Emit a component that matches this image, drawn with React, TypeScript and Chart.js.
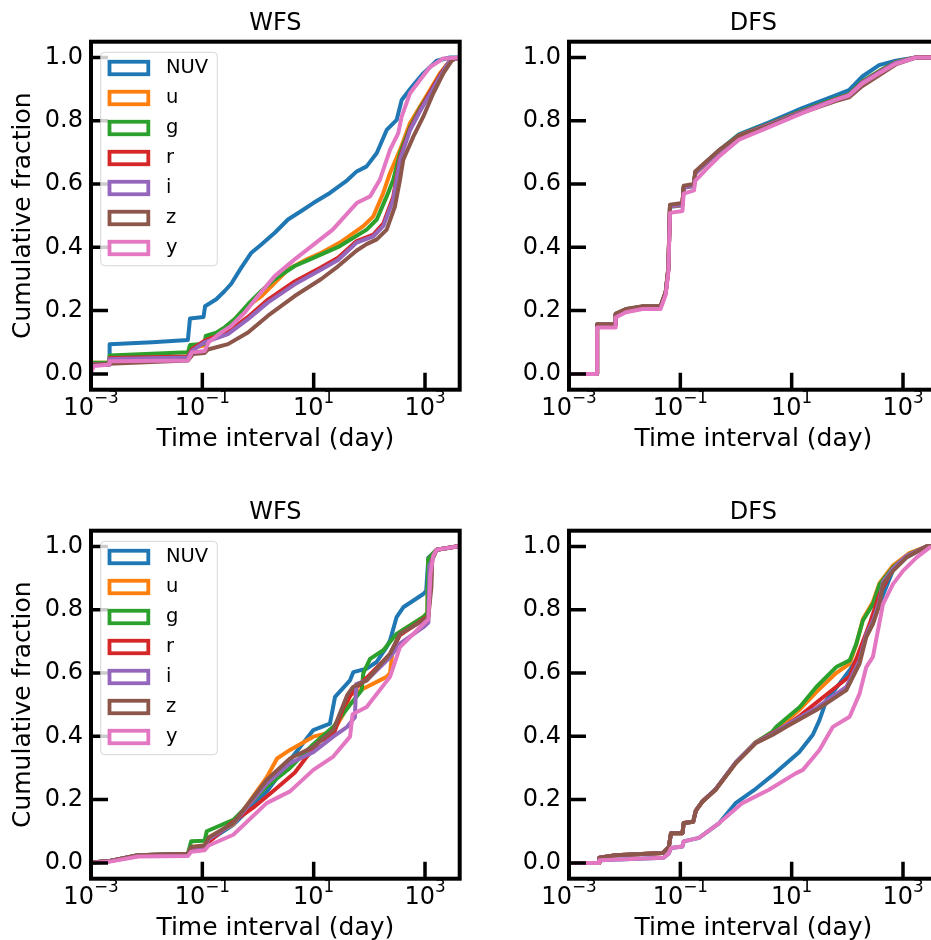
import React, { useEffect, useRef } from 'react';
import { Chart, registerables } from 'chart.js';

Chart.register(...registerables);

const FONT = "'DejaVu Sans', sans-serif";

// ---- labels / categories ----
const bandNames = ['NUV', 'u', 'g', 'r', 'i', 'z', 'y'];
const bandColors = ['#1f77b4', '#ff7f0e', '#2ca02c', '#d62728', '#9467bd', '#8c564b', '#e377c2'];
const panelTitles = ['WFS', 'DFS', 'WFS', 'DFS'];
const yTickValues = [0, 0.2, 0.4, 0.6, 0.8, 1.0];
const xTickValues = [1e-3, 1e-1, 1e1, 1e3];
const xTickBase = '10';
const xTickExponents = ['\u22123', '\u22121', '1', '3'];
const xAxisLabel = 'Time interval (day)';
const yAxisLabel = 'Cumulative fraction';
const xLimits = [1e-3, 4200];
const yLimits = [-0.05, 1.05];

// ---- top-left: WFS (upper row) ----
const tlNUVx = [0.001, 0.00216, 0.00216, 0.0126, 0.055, 0.06, 0.105, 0.112, 0.178, 0.252, 0.331, 0.501, 0.76, 1.15, 2.0, 3.46, 6.0, 9.84, 19.6, 40, 59.3, 89.5, 136, 205, 310, 381, 577, 931, 1622, 2812, 4200];
const tlNUVy = [0.03, 0.03, 0.094, 0.1, 0.107, 0.175, 0.18, 0.214, 0.236, 0.262, 0.285, 0.336, 0.383, 0.409, 0.446, 0.488, 0.515, 0.54, 0.572, 0.612, 0.64, 0.656, 0.698, 0.771, 0.803, 0.866, 0.907, 0.95, 0.99, 1.0, 1.0];
const tlUx = [0.001, 0.00216, 0.00216, 0.055, 0.06, 0.11, 0.126, 0.178, 0.25, 0.38, 0.661, 1.146, 3.46, 7.5, 13.7, 29.7, 77.8, 118, 178, 235, 356, 537, 813, 1230, 1858, 2812, 4200];
const tlUy = [0.035, 0.035, 0.045, 0.055, 0.08, 0.09, 0.11, 0.125, 0.145, 0.17, 0.215, 0.245, 0.33, 0.362, 0.383, 0.415, 0.467, 0.498, 0.572, 0.635, 0.708, 0.792, 0.845, 0.897, 0.95, 0.99, 1.0];
const tlGx = [0.001, 0.00216, 0.00216, 0.055, 0.06, 0.11, 0.115, 0.178, 0.252, 0.381, 0.661, 1.146, 1.995, 4.56, 8.59, 29.7, 89.5, 136, 205, 269, 356, 537, 813, 1230, 1858, 2812, 4200];
const tlGy = [0.035, 0.035, 0.058, 0.068, 0.091, 0.095, 0.12, 0.13, 0.147, 0.173, 0.22, 0.262, 0.299, 0.341, 0.362, 0.404, 0.456, 0.488, 0.561, 0.614, 0.698, 0.78, 0.84, 0.89, 0.945, 0.99, 1.0];
const tlRx = [0.001, 0.00216, 0.00216, 0.055, 0.065, 0.11, 0.289, 0.661, 1.513, 4.56, 13.7, 27.4, 59.3, 118, 178, 269, 356, 537, 813, 1230, 1858, 2812, 4200];
const tlRy = [0.03, 0.03, 0.05, 0.055, 0.078, 0.105, 0.133, 0.18, 0.235, 0.292, 0.337, 0.367, 0.42, 0.44, 0.475, 0.56, 0.685, 0.775, 0.835, 0.89, 0.945, 0.99, 1.0];
const tlIx = [0.001, 0.00216, 0.00216, 0.055, 0.065, 0.11, 0.289, 0.661, 1.513, 4.56, 13.7, 27.4, 59.3, 118, 178, 269, 356, 537, 813, 1230, 1858, 2812, 4200];
const tlIy = [0.03, 0.03, 0.047, 0.052, 0.073, 0.1, 0.126, 0.173, 0.226, 0.283, 0.33, 0.36, 0.415, 0.435, 0.467, 0.551, 0.677, 0.77, 0.83, 0.885, 0.94, 0.99, 1.0];
const tlZx = [0.001, 0.055, 0.068, 0.11, 0.126, 0.289, 0.661, 1.513, 4.56, 13.7, 27.4, 59.3, 89.5, 136, 205, 289, 356, 407, 617, 931, 1410, 2133, 3221, 4200];
const tlZy = [0.03, 0.042, 0.063, 0.066, 0.077, 0.094, 0.131, 0.184, 0.246, 0.3, 0.34, 0.39, 0.41, 0.425, 0.456, 0.53, 0.614, 0.677, 0.75, 0.813, 0.887, 0.95, 0.997, 1.0];
const tlYx = [0.001, 0.00113, 0.00216, 0.00216, 0.055, 0.065, 0.11, 0.13, 0.219, 0.331, 0.577, 1.0, 1.995, 4.56, 22, 59.3, 103, 155, 235, 331, 381, 537, 813, 1230, 2133, 4200];
const tlYy = [0.005, 0.025, 0.03, 0.04, 0.042, 0.068, 0.072, 0.1, 0.131, 0.152, 0.194, 0.246, 0.309, 0.362, 0.456, 0.54, 0.561, 0.614, 0.708, 0.761, 0.813, 0.887, 0.929, 0.97, 0.997, 1.0];

// ---- top-right: DFS (upper row), shared time grid ----
const trX = [0.001, 0.0032, 0.0032, 0.0069, 0.0069, 0.0105, 0.021, 0.044, 0.0546, 0.0608, 0.0652, 0.109, 0.115, 0.176, 0.185, 0.285, 0.495, 1.13, 3.92, 15.5, 61.7, 107, 186, 372, 741, 1700, 4200];
const trNUVy = [0, 0, 0.157, 0.157, 0.19, 0.204, 0.212, 0.212, 0.258, 0.33, 0.528, 0.532, 0.588, 0.594, 0.633, 0.665, 0.706, 0.757, 0.795, 0.84, 0.88, 0.897, 0.94, 0.976, 0.99, 1.0, 1.0];
const trUy = [0, 0, 0.156, 0.156, 0.188, 0.203, 0.211, 0.211, 0.256, 0.33, 0.53, 0.534, 0.59, 0.595, 0.633, 0.664, 0.703, 0.752, 0.788, 0.83, 0.868, 0.882, 0.922, 0.955, 0.985, 1.0, 1.0];
const trGy = [0, 0, 0.157, 0.157, 0.19, 0.204, 0.213, 0.213, 0.258, 0.33, 0.532, 0.536, 0.592, 0.597, 0.636, 0.667, 0.706, 0.755, 0.79, 0.832, 0.87, 0.884, 0.925, 0.957, 0.986, 1.0, 1.0];
const trRy = [0, 0, 0.156, 0.156, 0.189, 0.203, 0.212, 0.212, 0.257, 0.33, 0.531, 0.535, 0.59, 0.596, 0.634, 0.665, 0.704, 0.753, 0.789, 0.83, 0.868, 0.882, 0.922, 0.954, 0.984, 1.0, 1.0];
const trIy = [0, 0, 0.156, 0.156, 0.189, 0.203, 0.212, 0.212, 0.257, 0.33, 0.53, 0.535, 0.59, 0.596, 0.634, 0.664, 0.703, 0.752, 0.788, 0.829, 0.867, 0.881, 0.921, 0.953, 0.984, 1.0, 1.0];
const trZy = [0, 0, 0.155, 0.155, 0.19, 0.205, 0.214, 0.214, 0.26, 0.335, 0.535, 0.54, 0.595, 0.6, 0.64, 0.67, 0.707, 0.752, 0.785, 0.826, 0.862, 0.874, 0.91, 0.944, 0.978, 1.0, 1.0];
const trYy = [0, 0, 0.147, 0.147, 0.178, 0.195, 0.205, 0.205, 0.25, 0.32, 0.509, 0.515, 0.57, 0.58, 0.61, 0.645, 0.687, 0.74, 0.78, 0.824, 0.866, 0.88, 0.918, 0.95, 0.98, 1.0, 1.0];

// ---- bottom-left: WFS (lower row) ----
const blNUVx = [0.001, 0.0022, 0.007, 0.055, 0.063, 0.11, 0.13, 0.36, 1.43, 3.76, 9.86, 19.6, 24.2, 45, 51.6, 89.5, 135, 204, 235, 309, 407, 933, 1050, 1150, 1620, 3700, 4200];
const blNUVy = [0.001, 0.006, 0.024, 0.029, 0.045, 0.05, 0.07, 0.12, 0.225, 0.325, 0.42, 0.44, 0.525, 0.577, 0.603, 0.614, 0.635, 0.682, 0.703, 0.777, 0.808, 0.85, 0.86, 0.965, 0.99, 1.0, 1.0];
const blUx = [0.001, 0.0022, 0.007, 0.055, 0.063, 0.11, 0.13, 0.36, 1.43, 2.2, 3.76, 9.86, 22.5, 34, 45, 89.5, 204, 235, 260, 355, 933, 1100, 1150, 1620, 3700, 4200];
const blUy = [0.001, 0.006, 0.024, 0.029, 0.05, 0.055, 0.08, 0.122, 0.27, 0.33, 0.357, 0.399, 0.415, 0.47, 0.53, 0.556, 0.588, 0.6, 0.665, 0.73, 0.777, 0.79, 0.96, 0.99, 1.0, 1.0];
const blGx = [0.001, 0.0022, 0.007, 0.055, 0.063, 0.11, 0.12, 0.36, 1.43, 3.76, 9.86, 22.5, 45, 72.8, 78, 103, 178, 309, 933, 1100, 1140, 1620, 3700, 4200];
const blGy = [0.001, 0.006, 0.024, 0.029, 0.068, 0.07, 0.1, 0.136, 0.241, 0.3, 0.375, 0.43, 0.5, 0.546, 0.6, 0.645, 0.672, 0.724, 0.777, 0.79, 0.96, 0.99, 1.0, 1.0];
const blRx = [0.001, 0.0022, 0.007, 0.055, 0.063, 0.11, 0.13, 0.33, 0.87, 2.0, 4.56, 7.5, 13, 22.5, 34, 51.6, 89.5, 235, 355, 933, 1150, 1250, 1350, 1620, 3700, 4200];
const blRy = [0.001, 0.006, 0.022, 0.027, 0.04, 0.045, 0.065, 0.126, 0.178, 0.231, 0.285, 0.335, 0.385, 0.404, 0.49, 0.545, 0.585, 0.66, 0.72, 0.77, 0.78, 0.87, 0.96, 0.99, 1.0, 1.0];
const blIx = [0.001, 0.0022, 0.007, 0.055, 0.063, 0.11, 0.13, 0.36, 1.43, 3.76, 9.86, 22.5, 40, 55, 58, 89.5, 235, 355, 933, 1150, 1200, 1620, 3700, 4200];
const blIy = [0.001, 0.006, 0.024, 0.029, 0.048, 0.052, 0.075, 0.125, 0.25, 0.315, 0.35, 0.399, 0.43, 0.46, 0.565, 0.577, 0.65, 0.693, 0.745, 0.76, 0.94, 0.99, 1.0, 1.0];
const blZx = [0.001, 0.0022, 0.007, 0.055, 0.063, 0.11, 0.13, 0.36, 1.43, 3.76, 9.86, 22.5, 40, 51, 89.5, 235, 355, 933, 1150, 1300, 1350, 1620, 3700, 4200];
const blZy = [0.001, 0.006, 0.024, 0.029, 0.05, 0.055, 0.08, 0.126, 0.262, 0.33, 0.367, 0.42, 0.53, 0.556, 0.577, 0.661, 0.724, 0.766, 0.78, 0.87, 0.96, 0.99, 1.0, 1.0];
const blYx = [0.001, 0.0022, 0.007, 0.055, 0.063, 0.11, 0.13, 0.36, 1.43, 3.76, 9.86, 22.5, 45, 50, 89.5, 235, 355, 933, 1150, 1250, 1400, 1620, 3700, 4200];
const blYy = [0, 0.004, 0.02, 0.022, 0.035, 0.04, 0.055, 0.089, 0.189, 0.226, 0.294, 0.336, 0.399, 0.47, 0.493, 0.588, 0.682, 0.755, 0.77, 0.91, 0.97, 0.99, 1.0, 1.0];

// ---- bottom-right: DFS (lower row) ----
const brNUVx = [0.001, 0.0035, 0.0035, 0.05, 0.062, 0.068, 0.109, 0.115, 0.216, 0.5, 1.0, 2.3, 5.0, 13.6, 24, 31.6, 42, 72.8, 110, 166, 219, 288, 380, 660, 1148, 2630, 4200];
const brNUVy = [0, 0, 0.008, 0.016, 0.03, 0.047, 0.052, 0.068, 0.079, 0.126, 0.19, 0.235, 0.283, 0.35, 0.405, 0.451, 0.514, 0.567, 0.609, 0.66, 0.72, 0.76, 0.82, 0.925, 0.965, 1.0, 1.0];
const brUx = [0.001, 0.0035, 0.0035, 0.0069, 0.048, 0.062, 0.068, 0.109, 0.115, 0.17, 0.19, 0.25, 0.43, 0.99, 2.25, 4.5, 14, 27.7, 63, 110, 145, 190, 288, 380, 660, 1318, 2630, 4200];
const brUy = [0, 0, 0.016, 0.024, 0.031, 0.05, 0.094, 0.094, 0.126, 0.13, 0.165, 0.194, 0.232, 0.317, 0.381, 0.41, 0.485, 0.54, 0.6, 0.63, 0.69, 0.77, 0.825, 0.885, 0.94, 0.98, 1.0, 1.0];
const brGx = [0.001, 0.0035, 0.0035, 0.0069, 0.048, 0.062, 0.068, 0.109, 0.115, 0.17, 0.19, 0.25, 0.43, 0.99, 2.25, 4.5, 5.3, 14, 27.7, 63, 110, 145, 190, 288, 380, 660, 1318, 2630, 4200];
const brGy = [0, 0, 0.016, 0.024, 0.031, 0.05, 0.094, 0.094, 0.126, 0.13, 0.165, 0.194, 0.232, 0.317, 0.381, 0.415, 0.43, 0.493, 0.556, 0.619, 0.64, 0.693, 0.766, 0.818, 0.881, 0.934, 0.976, 1.0, 1.0];
const brRx = [0.001, 0.0035, 0.0035, 0.0069, 0.048, 0.062, 0.068, 0.109, 0.115, 0.17, 0.19, 0.25, 0.43, 0.99, 2.25, 4.5, 8.0, 14, 55, 110, 166, 251, 380, 660, 1148, 2630, 4200];
const brRy = [0, 0, 0.016, 0.024, 0.031, 0.05, 0.094, 0.094, 0.126, 0.13, 0.165, 0.194, 0.232, 0.316, 0.38, 0.41, 0.435, 0.465, 0.548, 0.59, 0.672, 0.755, 0.85, 0.93, 0.968, 1.0, 1.0];
const brIx = [0.001, 0.0035, 0.0035, 0.0069, 0.048, 0.062, 0.068, 0.109, 0.115, 0.17, 0.19, 0.25, 0.43, 0.99, 2.25, 4.5, 8.0, 27.7, 96, 166, 219, 288, 380, 437, 660, 1148, 2630, 4200];
const brIy = [0, 0, 0.016, 0.024, 0.031, 0.05, 0.094, 0.094, 0.126, 0.13, 0.165, 0.195, 0.233, 0.318, 0.38, 0.407, 0.435, 0.49, 0.556, 0.64, 0.722, 0.765, 0.828, 0.888, 0.93, 0.97, 1.0, 1.0];
const brZx = [0.001, 0.0035, 0.0035, 0.0069, 0.048, 0.062, 0.068, 0.109, 0.115, 0.17, 0.19, 0.25, 0.43, 0.99, 2.25, 4.5, 8.0, 27.7, 96, 166, 219, 288, 380, 437, 660, 1148, 2630, 4200];
const brZy = [0, 0, 0.016, 0.024, 0.031, 0.05, 0.094, 0.094, 0.126, 0.13, 0.165, 0.194, 0.231, 0.315, 0.378, 0.404, 0.43, 0.483, 0.546, 0.63, 0.714, 0.755, 0.818, 0.881, 0.923, 0.965, 1.0, 1.0];
const brYx = [0.001, 0.0035, 0.0035, 0.05, 0.062, 0.068, 0.109, 0.115, 0.216, 0.5, 1.3, 3.9, 11.8, 15.9, 31.6, 55, 110, 166, 219, 288, 355, 437, 660, 1000, 1740, 3020, 4200];
const brYy = [0, 0, 0.008, 0.016, 0.03, 0.047, 0.052, 0.068, 0.079, 0.126, 0.189, 0.231, 0.283, 0.294, 0.357, 0.43, 0.462, 0.535, 0.619, 0.651, 0.735, 0.818, 0.881, 0.923, 0.965, 0.997, 1.0];

type Panel = { title: string; legend: boolean; yLabel: boolean; xs: number[][]; ys: number[][]; left: number; top: number };

const panels: Panel[] = [
  { title: panelTitles[0], legend: true, yLabel: true, left: 0, top: 0,
    xs: [tlNUVx, tlUx, tlGx, tlRx, tlIx, tlZx, tlYx], ys: [tlNUVy, tlUy, tlGy, tlRy, tlIy, tlZy, tlYy] },
  { title: panelTitles[1], legend: false, yLabel: false, left: 478, top: 0,
    xs: [trX, trX, trX, trX, trX, trX, trX], ys: [trNUVy, trUy, trGy, trRy, trIy, trZy, trYy] },
  { title: panelTitles[2], legend: true, yLabel: true, left: 0, top: 489,
    xs: [blNUVx, blUx, blGx, blRx, blIx, blZx, blYx], ys: [blNUVy, blUy, blGy, blRy, blIy, blZy, blYy] },
  { title: panelTitles[3], legend: false, yLabel: false, left: 478, top: 489,
    xs: [brNUVx, brUx, brGx, brRx, brIx, brZx, brYx], ys: [brNUVy, brUy, brGy, brRy, brIy, brZy, brYy] },
];

const CANVAS_W = 480;
const CANVAS_H = 460;

function decorPlugin(showLegend: boolean) {
  return {
    id: 'panelDecor',
    afterDraw(chart: any) {
      const { ctx, chartArea: a, scales } = chart;
      const xs = scales.x;
      const ys = scales.y;
      ctx.save();
      // inward ticks
      ctx.strokeStyle = '#000';
      ctx.lineWidth = 3.5;
      ctx.lineCap = 'butt';
      ctx.beginPath();
      yTickValues.forEach((v) => {
        const p = ys.getPixelForValue(v);
        ctx.moveTo(a.left, p);
        ctx.lineTo(a.left + 17, p);
      });
      xTickValues.forEach((v) => {
        const p = xs.getPixelForValue(v);
        ctx.moveTo(p, a.bottom);
        ctx.lineTo(p, a.bottom - 17);
      });
      ctx.stroke();
      // frame
      ctx.lineWidth = 4;
      ctx.lineJoin = 'miter';
      ctx.strokeRect(a.left, a.top, a.right - a.left, a.bottom - a.top);
      // x tick labels with superscript exponents
      ctx.fillStyle = '#000';
      ctx.textAlign = 'left';
      ctx.textBaseline = 'alphabetic';
      xTickValues.forEach((v, i) => {
        const p = xs.getPixelForValue(v);
        ctx.font = `24px ${FONT}`;
        const w1 = ctx.measureText(xTickBase).width;
        ctx.font = `16.8px ${FONT}`;
        const w2 = ctx.measureText(xTickExponents[i]).width;
        const x0 = p - (w1 + w2) / 2;
        ctx.font = `24px ${FONT}`;
        ctx.fillText(xTickBase, x0, a.bottom + 25);
        ctx.font = `16.8px ${FONT}`;
        ctx.fillText(xTickExponents[i], x0 + w1, a.bottom + 13.3);
      });
      // legend
      if (showLegend) {
        const bx = a.left + 9.7;
        const by = a.top + 10.6;
        const bw = 116.6;
        const bh = 213.4;
        ctx.beginPath();
        if (ctx.roundRect) ctx.roundRect(bx, by, bw, bh, 4);
        else ctx.rect(bx, by, bw, bh);
        ctx.fillStyle = 'rgba(255,255,255,0.8)';
        ctx.fill();
        ctx.strokeStyle = 'rgba(204,204,204,0.8)';
        ctx.lineWidth = 1;
        ctx.stroke();
        bandNames.forEach((name, i) => {
          const cy = by + 15.7 + 30 * i;
          ctx.strokeStyle = bandColors[i];
          ctx.lineWidth = 3.8;
          ctx.strokeRect(bx + 8.8, cy - 6.25, 38.8, 12.5);
          ctx.fillStyle = '#000';
          ctx.font = `19.5px ${FONT}`;
          ctx.textBaseline = 'middle';
          ctx.fillText(name, bx + 65.3, cy);
        });
      }
      ctx.restore();
    },
  };
}

function makeConfig(p: Panel): any {
  return {
    type: 'line',
    data: {
      datasets: bandNames.map((name, i) => ({
        label: name,
        data: p.xs[i].map((x, k) => ({ x, y: p.ys[i][k] })),
        borderColor: bandColors[i],
        backgroundColor: bandColors[i],
        borderWidth: 4,
        pointRadius: 0,
        pointHoverRadius: 0,
        fill: false,
        tension: 0,
        borderJoinStyle: 'round',
        order: bandNames.length - i,
      })),
    },
    options: {
      animation: false,
      responsive: false,
      maintainAspectRatio: false,
      devicePixelRatio: 1,
      events: [],
      layout: { padding: { top: 0, right: 20.3, bottom: 0, left: 0 } },
      plugins: {
        legend: { display: false },
        tooltip: { enabled: false },
        title: {
          display: true,
          text: p.title,
          fullSize: false,
          color: '#000',
          font: { family: FONT, size: 24, weight: 'normal', lineHeight: 1.2 },
          padding: { top: 8.9, bottom: 4.0 },
        },
      },
      scales: {
        x: {
          type: 'logarithmic',
          position: 'bottom',
          min: xLimits[0],
          max: xLimits[1],
          grid: { display: false, drawTicks: false, tickLength: 0 },
          border: { display: false },
          ticks: { display: false },
          title: {
            display: true,
            text: xAxisLabel,
            color: '#000',
            font: { family: FONT, size: 25, weight: 'normal', lineHeight: 1.2 },
            padding: { top: 0, bottom: 6 },
          },
          afterFit: (s: any) => { s.height = 70.3; },
        },
        y: {
          type: 'linear',
          position: 'left',
          min: yLimits[0],
          max: yLimits[1],
          afterBuildTicks: (s: any) => { s.ticks = yTickValues.map((v) => ({ value: v })); },
          grid: { display: false, drawTicks: false, tickLength: 0 },
          border: { display: false },
          ticks: {
            color: '#000',
            padding: 8,
            font: { family: FONT, size: 24 },
            autoSkip: false,
            callback: (v: any) => Number(v).toFixed(1),
          },
          title: p.yLabel
            ? {
                display: true,
                text: yAxisLabel,
                color: '#000',
                font: { family: FONT, size: 25, weight: 'normal', lineHeight: 1.2 },
                padding: { top: 8.5, bottom: 0 },
              }
            : { display: false },
          afterFit: (s: any) => { s.width = 91; },
        },
      },
    },
    plugins: [decorPlugin(p.legend)],
  };
}

export default function App() {
  const r0 = useRef<HTMLCanvasElement>(null);
  const r1 = useRef<HTMLCanvasElement>(null);
  const r2 = useRef<HTMLCanvasElement>(null);
  const r3 = useRef<HTMLCanvasElement>(null);
  const refs = [r0, r1, r2, r3];

  useEffect(() => {
    const charts = panels.map((p, i) => new Chart(refs[i].current as HTMLCanvasElement, makeConfig(p)));
    return () => charts.forEach((c) => c.destroy());
  }, []);

  return (
    <div style={{ position: 'fixed', left: 0, top: 0, width: 931, height: 940, overflow: 'hidden', background: '#fff' }}>
      {panels.map((p, i) => (
        <canvas
          key={i}
          ref={refs[i]}
          width={CANVAS_W}
          height={CANVAS_H}
          style={{ position: 'absolute', left: p.left, top: p.top, width: CANVAS_W, height: CANVAS_H }}
        />
      ))}
    </div>
  );
}
